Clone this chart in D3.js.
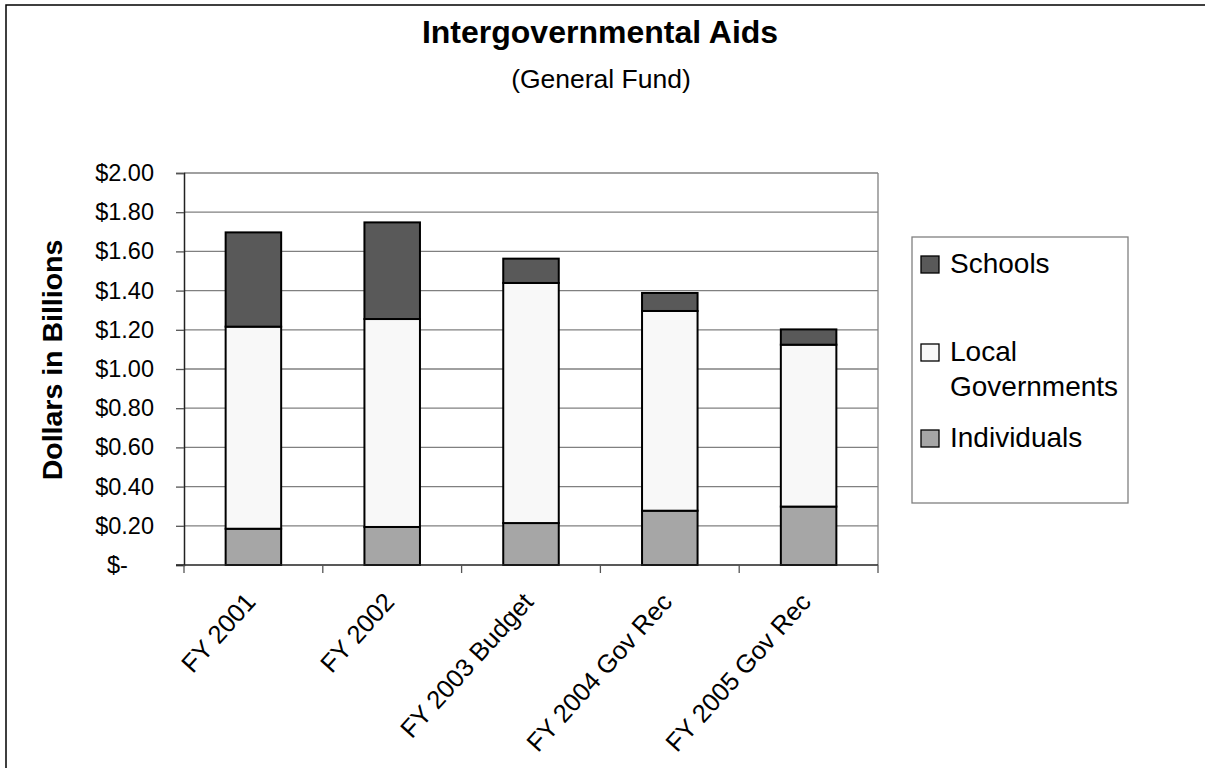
<!DOCTYPE html>
<head>
  <meta charset="utf-8">
  <script src="https://d3js.org/d3.v7.min.js"></script>
  <style>
    body { margin: 0; background: #fff; }
    svg { display: block; font-family: "Liberation Sans", Arial, sans-serif; }
  </style>
</head>
<body>
<svg width="1205" height="768"></svg>
<script>
// data (billions of dollars)
var categories = ["FY 2001", "FY 2002", "FY 2003 Budget", "FY 2004 Gov Rec", "FY 2005 Gov Rec"];
var individuals = [0.185, 0.194, 0.214, 0.277, 0.298];
var localGov = [1.031, 1.061, 1.225, 1.019, 0.826];
var schools = [0.481, 0.493, 0.124, 0.092, 0.078];
var seriesNames = ["Individuals", "Local Governments", "Schools"];
var yTicks = [0, 0.2, 0.4, 0.6, 0.8, 1.0, 1.2, 1.4, 1.6, 1.8, 2.0];

var colours = d3.scaleOrdinal()
    .domain(seriesNames)
    .range(["#a6a6a6", "#f8f8f8", "#595959"]);

var rows = categories.map(function(c, i) {
  return {cat: c, "Individuals": individuals[i], "Local Governments": localGov[i], "Schools": schools[i]};
});
var stacked = d3.stack().keys(seriesNames)(rows);

var svg = d3.select("svg"),
    margin = {top: 173, right: 327, bottom: 203, left: 184},
    width = +svg.attr("width") - margin.left - margin.right,
    height = +svg.attr("height") - margin.top - margin.bottom;

// chart area border
svg.append("rect")
    .attr("x", 6).attr("y", 5)
    .attr("width", 1300).attr("height", 900)
    .attr("fill", "#fff").attr("stroke", "#000").attr("stroke-width", 1.5);

var x = d3.scaleBand().domain(categories).range([0, width]).paddingInner(0.6).paddingOuter(0.3),
    xTick = d3.scaleLinear().domain([0, categories.length]).range([0, width]),
    y = d3.scaleLinear().domain([0, 2]).range([height, 0]);

var g = svg.append("g")
    .attr("transform", "translate(" + margin.left + "," + margin.top + ")");

// gridlines
g.append("g")
    .selectAll("line")
    .data(yTicks.filter(function(d) { return d > 0; }))
  .enter().append("line")
    .attr("x1", 0).attr("x2", width)
    .attr("y1", function(d) { return y(d); })
    .attr("y2", function(d) { return y(d); })
    .attr("stroke", "#808080").attr("stroke-width", 1.3);

// right plot border
g.append("line")
    .attr("x1", width).attr("x2", width)
    .attr("y1", 0).attr("y2", height)
    .attr("stroke", "#808080").attr("stroke-width", 1.3);

// bars
g.selectAll(".layer")
    .data(stacked)
  .enter().append("g")
    .attr("class", "layer")
    .attr("fill", function(d) { return colours(d.key); })
  .selectAll("rect")
    .data(function(d) { return d; })
  .enter().append("rect")
    .attr("x", function(d) { return x(d.data.cat); })
    .attr("y", function(d) { return y(d[1]); })
    .attr("width", x.bandwidth())
    .attr("height", function(d) { return y(d[0]) - y(d[1]); })
    .attr("stroke", "#000")
    .attr("stroke-width", 2);

// y axis
var yAxis = g.append("g")
    .call(d3.axisLeft(y).tickValues(yTicks).tickSize(8).tickPadding(22)
      .tickFormat(function(d) { return d === 0 ? "$-\u2007\u2007" : "$" + d.toFixed(2); }));
yAxis.select(".domain").attr("stroke", "#222").attr("stroke-width", 1.5);
yAxis.selectAll(".tick line").attr("stroke", "#555").attr("stroke-width", 1.3);
yAxis.selectAll(".tick text")
    .attr("font-size", 23.5).attr("fill", "#000")
    .style("white-space", "pre")
    .attr("font-family", "Liberation Sans, Arial, sans-serif");

// x axis: ticks between categories
var xAxis = g.append("g")
    .attr("transform", "translate(0," + height + ")");
xAxis.append("line")
    .attr("x1", -8).attr("x2", width)
    .attr("stroke", "#222").attr("stroke-width", 1.5);
xAxis.selectAll(".xt")
    .data(d3.range(categories.length + 1))
  .enter().append("line")
    .attr("class", "xt")
    .attr("x1", function(d) { return xTick(d); })
    .attr("x2", function(d) { return xTick(d); })
    .attr("y1", 0).attr("y2", 8)
    .attr("stroke", "#555").attr("stroke-width", 1.3);
xAxis.selectAll(".xl")
    .data(categories)
  .enter().append("text")
    .attr("class", "xl")
    .attr("transform", function(d) {
      return "translate(" + (x(d) + x.bandwidth() / 2 - 3) + ",32) rotate(-48)";
    })
    .attr("text-anchor", "end")
    .attr("dy", "0.35em")
    .attr("font-size", 25.5)
    .text(function(d) { return d; });

// y title
svg.append("text")
    .attr("transform", "translate(62,360) rotate(-90)")
    .attr("text-anchor", "middle")
    .attr("font-weight", "bold")
    .attr("font-size", 28.5)
    .text("Dollars in Billions");

// titles
svg.append("text")
    .attr("x", 600).attr("y", 43)
    .attr("text-anchor", "middle")
    .attr("font-weight", "bold")
    .attr("font-size", 32)
    .text("Intergovernmental Aids");
svg.append("text")
    .attr("x", 601).attr("y", 88)
    .attr("text-anchor", "middle")
    .attr("font-size", 26.5)
    .text("(General Fund)");

// legend
var legendItems = [
  {key: "Schools", lines: ["Schools"], y: 273},
  {key: "Local Governments", lines: ["Local", "Governments"], y: 361},
  {key: "Individuals", lines: ["Individuals"], y: 447}
];
var legend = svg.append("g");
legend.append("rect")
    .attr("x", 912).attr("y", 237)
    .attr("width", 216).attr("height", 266)
    .attr("fill", "#fff").attr("stroke", "#808080").attr("stroke-width", 1.3);
var li = legend.selectAll(".li")
    .data(legendItems)
  .enter().append("g")
    .attr("class", "li");
li.append("rect")
    .attr("x", 921).attr("y", function(d) { return d.y - 17; })
    .attr("width", 18).attr("height", 17)
    .attr("fill", function(d) { return colours(d.key); })
    .attr("stroke", "#000").attr("stroke-width", 1.3);
li.append("text")
    .attr("x", 950).attr("y", function(d) { return d.y; })
    .attr("font-size", 28)
  .selectAll("tspan")
    .data(function(d) { return d.lines; })
  .enter().append("tspan")
    .attr("x", 950)
    .attr("dy", function(d, i) { return i === 0 ? 0 : 35; })
    .text(function(d) { return d; });
</script>
</body>
